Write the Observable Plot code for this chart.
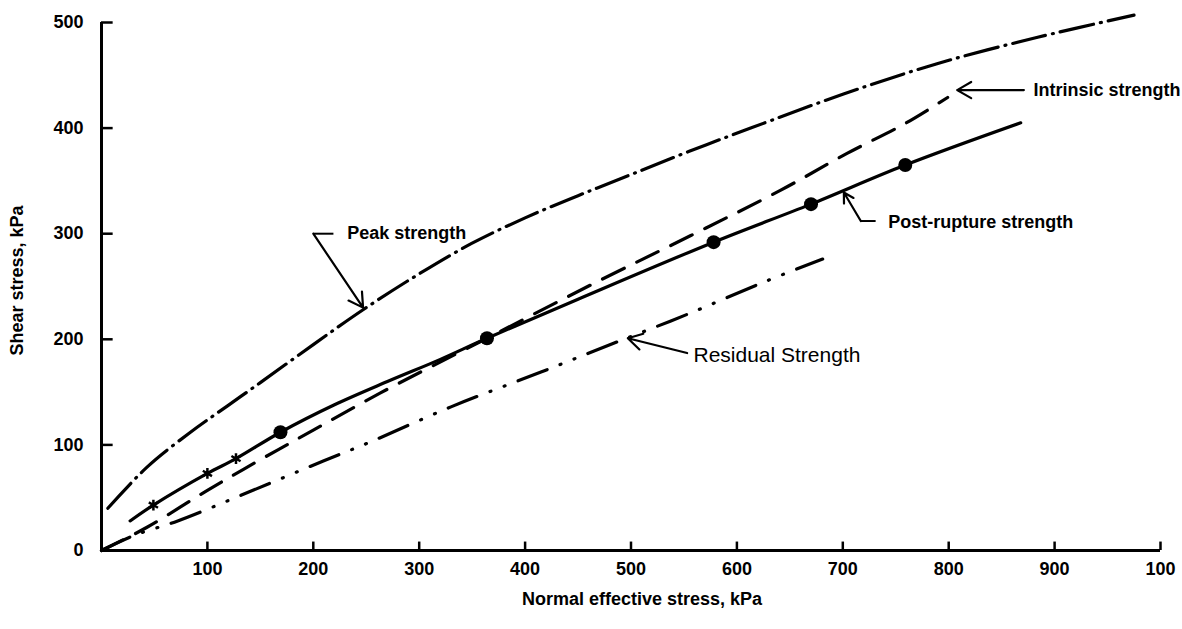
<!DOCTYPE html>
<html>
<head>
<meta charset="utf-8">
<script src="https://cdn.jsdelivr.net/npm/d3@7"></script>
<script src="https://cdn.jsdelivr.net/npm/@observablehq/plot@0.6"></script>
<style>
  html, body { margin: 0; padding: 0; background: #fff; overflow: hidden; }
  #chart svg { display: block; }
</style>
</head>
<body>
<div id="chart"></div>
<script>
// ---- Data (kPa) ----
const peakX = [6, 43, 84, 119, 150, 200, 247, 300, 350, 400, 450, 500, 555, 613, 700, 789, 884, 975];
const peakY = [40, 79, 112, 137, 159, 195, 228, 262, 291, 315, 336, 356, 378, 400, 432, 461, 486, 507];

const postX = [27, 49, 100, 127, 169, 220, 270, 320, 364, 450, 578, 670, 759, 868];
const postY = [28, 43, 73, 87, 112, 138, 160, 181, 201, 238, 292, 328, 365, 405];

const postDotX = [169, 364, 578, 670, 759];
const postDotY = [112, 201, 292, 328, 365];
const postSmallX = [49, 100, 127];
const postSmallY = [43, 73, 87];

const intrX = [0, 43, 100, 150, 200, 263, 364, 471, 560, 641, 704, 760, 799];
const intrY = [0, 22, 57, 86, 114, 149, 201, 256, 300, 341, 376, 405, 429];

const resX = [0, 30, 72, 143, 210, 252, 330, 415, 483, 554, 625, 681];
const resY = [0, 14, 28, 57, 85, 102, 136, 169, 196, 224, 254, 276];

const xTicks = [100, 200, 300, 400, 500, 600, 700, 800, 900, 1000];
const xTickLabels = ["100", "200", "300", "400", "500", "600", "700", "800", "900", "100"];
const yTicks = [0, 100, 200, 300, 400, 500];

const xTitle = "Normal effective stress, kPa";
const yTitle = "Shear stress, kPa";

// annotations (anchor points in data units)
const annoText = ["Peak strength", "Post-rupture strength", "Residual Strength", "Intrinsic strength"];
const annoX = [232, 743, 559, 880];
const annoY = [300, 311, 185, 436];
const arrowX1 = [200, 717, 553, 871];
const arrowY1 = [300, 312, 187, 436];
const arrowX2 = [247, 701, 497, 808];
const arrowY2 = [230, 339, 201, 436];
const elbowX1 = [219, 731];
const elbowY1 = [300, 312];
const elbowX2 = [200, 717];
const elbowY2 = [300, 312];

// ---- Build tables ----
const toPts = (xs, ys) => xs.map((x, i) => ({x, y: ys[i]}));
const peak = toPts(peakX, peakY);
const post = toPts(postX, postY);
const intr = toPts(intrX, intrY);
const res = toPts(resX, resY);
const postDots = toPts(postDotX, postDotY);
const postSmall = toPts(postSmallX, postSmallY);
const anno = annoText.map((t, i) => ({t, x: annoX[i], y: annoY[i], bold: t !== "Residual Strength"}));
const arrows = arrowX1.map((x1, i) => ({x1, y1: arrowY1[i], x2: arrowX2[i], y2: arrowY2[i]}));
const elbows = elbowX1.map((x1, i) => ({x1, y1: elbowY1[i], x2: elbowX2[i], y2: elbowY2[i]}));

const font = "'Liberation Sans', Arial, Helvetica, sans-serif";

const chart = Plot.plot({
  width: 1182,
  height: 629,
  marginLeft: 101,
  marginRight: 22,
  marginTop: 22,
  marginBottom: 79,
  style: {fontFamily: font, fontSize: "19px", fontWeight: "bold", color: "#000", background: "#fff"},
  x: {domain: [0, 1000]},
  y: {domain: [0, 500]},
  marks: [
    // axes labels
    Plot.axisX(xTicks, {tickSize: 0, tickPadding: 12, tickFormat: d => xTickLabels[xTicks.indexOf(d)], label: null, fontSize: 18, fontWeight: "bold"}),
    Plot.axisY(yTicks, {tickSize: 0, tickPadding: 18, label: null, fontSize: 18, fontWeight: "bold"}),
    // axis lines
    Plot.ruleX([0], {stroke: "#000", strokeWidth: 3}),
    Plot.ruleY([0], {stroke: "#000", strokeWidth: 3}),
    // inward ticks
    Plot.ruleX(xTicks, {y1: 0, y2: 8, stroke: "#000", strokeWidth: 2.5}),
    Plot.ruleY(yTicks.slice(1), {x1: 0, x2: 11, stroke: "#000", strokeWidth: 2.5}),
    // curves
    Plot.line(peak, {x: "x", y: "y", curve: "catmull-rom", stroke: "#000", strokeWidth: 3.2, strokeDasharray: "34,7,1,7", strokeLinecap: "round"}),
    Plot.line(intr, {x: "x", y: "y", curve: "catmull-rom", stroke: "#000", strokeWidth: 3.2, strokeDasharray: "24,14"}),
    Plot.line(res, {x: "x", y: "y", curve: "catmull-rom", stroke: "#000", strokeWidth: 3.2, strokeDasharray: "31,14,1,14,1,14", strokeLinecap: "round"}),
    Plot.line(post, {x: "x", y: "y", curve: "catmull-rom", stroke: "#000", strokeWidth: 3.2}),
    Plot.dot(postDots, {x: "x", y: "y", r: 7, fill: "#000"}),
    Plot.dot(postSmall, {x: "x", y: "y", r: 5, symbol: "asterisk", stroke: "#000", strokeWidth: 2.5}),
    // annotation leaders
    Plot.link(elbows, {x1: "x1", y1: "y1", x2: "x2", y2: "y2", stroke: "#000", strokeWidth: 2}),
    Plot.arrow(arrows, {x1: "x1", y1: "y1", x2: "x2", y2: "y2", stroke: "#000", strokeWidth: 2.2, headLength: 11, bend: 0}),
    Plot.text(anno.filter(d => d.bold), {x: "x", y: "y", text: "t", textAnchor: "start", fontSize: 18, fontWeight: "bold", fill: "#000"}),
    Plot.text(anno.filter(d => !d.bold), {x: "x", y: "y", text: "t", textAnchor: "start", fontSize: 21, fontWeight: "normal", fill: "#000"}),
    // axis titles
    Plot.text([xTitle], {frameAnchor: "bottom", textAnchor: "middle", lineAnchor: "middle", dy: 49, dx: 11, fontSize: 18, fontWeight: "bold", fill: "#000"}),
    Plot.text([yTitle], {frameAnchor: "left", textAnchor: "middle", lineAnchor: "middle", dx: -84, dy: -6, rotate: -90, fontSize: 18, fontWeight: "bold", fill: "#000"})
  ]
});
document.getElementById("chart").appendChild(chart);
</script>
</body>
</html>
